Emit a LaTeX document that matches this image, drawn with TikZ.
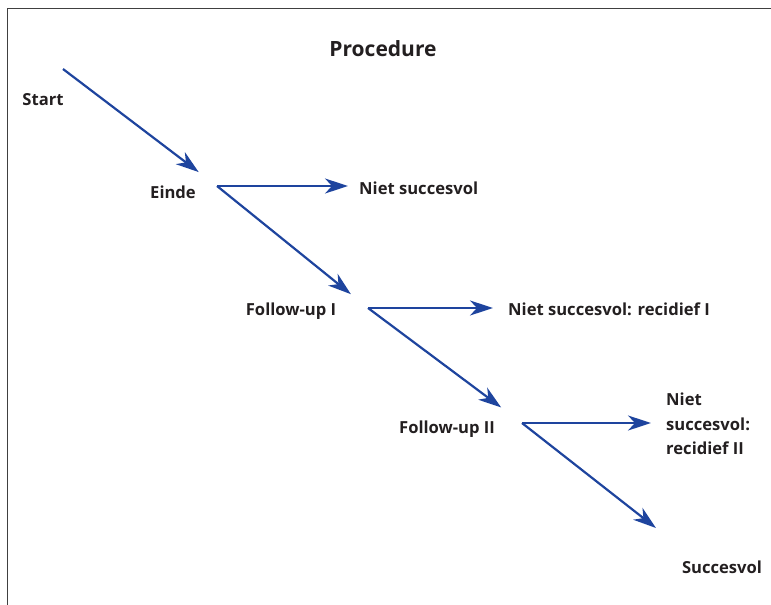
\documentclass[tikz,border=0pt]{standalone}
\usepackage{fontspec}
\setmainfont{Open Sans}
\usetikzlibrary{arrows.meta,positioning}
\definecolor{flowblue}{RGB}{30,68,158}
\definecolor{inktext}{RGB}{35,31,32}
\begin{document}
\begin{tikzpicture}[x=1pt,y=-1pt,
  every node/.style={font=\bfseries\fontsize{16.6}{24.5}\selectfont,text=inktext,inner sep=0pt},
  title/.style={font=\bfseries\fontsize{21}{25}\selectfont},
  outcome/.style={anchor=west,align=left},
  frame/.style={draw=black!75,line width=1pt},
  to/.style={-{Stealth[length=23pt,width=15pt,inset=7pt]},draw=flowblue,line width=2.2pt}]

    \useasboundingbox (0,0) rectangle (771,605);
    \draw[frame] (7,605) -- (7,8) -- (771,8);

    \node[title](title) at (383,49){Procedure};

    \coordinate (top) at (63,69);
    \node(start) at (43,100){Start};
    \node(einde) at (173,192){Einde};
    \coordinate (j1) at (217,186);
    \node[outcome](fail1) at (359,188){Niet succesvol};
    \node(fu1) at (291,311){Follow-up I};
    \coordinate (j2) at (368,308);
    \node[outcome](fail2) at (508,309){Niet succesvol: recidief I};
    \node(fu2) at (447,429){Follow-up II};
    \coordinate (j3) at (522,423);
    \node[outcome](fail3) at (666,424){Niet\\succesvol:\\recidief II};
    \coordinate (tail) at (656,528);
    \node(win) at (722,567){Succesvol};

    \draw[to,shorten >=23pt](top) -- (j1);
    \draw[to,shorten >=11pt](j1) -- (j1 -| fail1.west);
    \draw[to,shorten >=22pt](j1) -- (j2);
    \draw[to,shorten >=15pt](j2) -- (j2 -| fail2.west);
    \draw[to,shorten >=26pt](j2) -- (j3);
    \draw[to,shorten >=15pt](j3) -- (j3 -| fail3.west);
    \draw[to](j3) -- (tail);
\end{tikzpicture}
\end{document}
